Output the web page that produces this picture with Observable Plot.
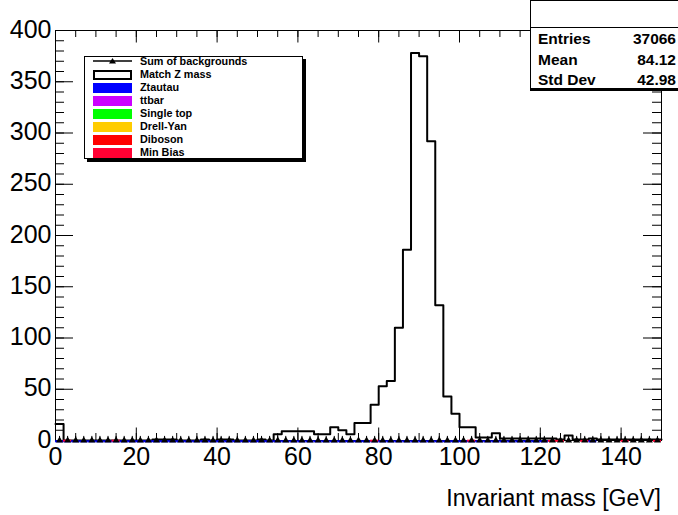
<!DOCTYPE html>
<html><head><meta charset="utf-8">
<script src="https://cdn.jsdelivr.net/npm/d3@7"></script>
<script src="https://cdn.jsdelivr.net/npm/@observablehq/plot@0.6"></script>
<style>
html,body{margin:0;padding:0;background:#fff;overflow:hidden;}
#chart{position:relative;width:678px;height:515px;font-family:"Liberation Sans",Arial,Helvetica,sans-serif;overflow:hidden;}
#chart svg{position:absolute;left:0;top:0;}
.legend{position:absolute;left:84px;top:56px;width:217px;height:101px;border:1px solid #000;background:#fff;box-shadow:3px 3px 0 #000;}
.lrow{position:absolute;left:0;height:13px;width:215px;}
.lsw{position:absolute;left:8px;top:1px;width:39px;height:10px;box-sizing:border-box;}
.ltx{position:absolute;left:55px;top:-1px;font-weight:bold;font-size:10.8px;line-height:13px;color:#000;white-space:nowrap;}
.stats{position:absolute;left:530px;top:0px;width:160px;height:87px;border:1px solid #000;border-bottom:3px solid #000;background:#fff;}
.sep{position:absolute;left:0;top:26px;width:100%;height:0;border-top:1px solid #000;}
.srow{position:absolute;left:7px;width:138px;font-weight:bold;font-size:15.5px;line-height:18px;color:#000;}
.srow .v{position:absolute;right:0;top:0;}
.xtitle{position:absolute;right:17px;top:485px;font-size:23px;color:#000;white-space:nowrap;}
</style></head><body><div id="chart"></div>
<script>
// ---------- data ----------
const binWidth = 2;
const binLow = d3.range(0, 150, binWidth);           // 75 bins, 0..150 GeV
const matchZ = [16, 0,0,0,0,0,0,0,0,0,0,0, 1,1,1, 0,0,0, 1, 0, 1,1, 0,0,0, 1, 0, 6,
  9,9,9,9, 6,6, 13, 10, 6, 17,17, 35, 53, 58, 110, 186, 378, 375, 292, 132, 43, 26,
  13,13, 3,3, 7, 2,2,2,2,2,2, 2, 1, 5, 1, 1, 2, 1,1,1,1,1,1,1,1];
// stacked backgrounds (essentially zero; only visible as a line on the axis)
const ztautau = [0.2,0.2,0.2,0.2,0.2,0.2,0.2,0.2,0.2,0.2,0.2,0.2,0.2,0.2,0.2,0.2,0.2,0.2,0.2,0.2,
  0.2,0.2,0.2,0.2,0.2,0.2,0.2,0.2,0.2,0.2,0.2,0.2,0.2,0.2,0.2,0.2,0.2,0.2,0.2,0.2,
  0.2,0.2,0.2,0.2,0.2,0.2,0.2,0.2,0.2,0.2,0.2,0.2,0.2,0.2,0.2,0.2,0.2,0.2,0.2,0.2,
  0.2,null,null,null,null,null,0.2,null,null,null,null,null,null,null,null];
const ttbar = [];
const singleTop = [];
const drellYan = [];
const diboson = [];
const minBiasBins = [2, 14, 78, 102, 122, 124, 130, 140, 148];
const minBiasVals = [0.6, 0.6, 0.6, 0.6, 0.6, 0.6, 0.6, 0.6, 0.6];
const bkgErr = 4;
const legendLabels = ["Sum of backgrounds","Match Z mass","Ztautau","ttbar","Single top","Drell-Yan","Diboson","Min Bias"];
const legendColors = [null, "#ffffff", "#0000ff", "#cc00ff", "#00ff00", "#ffcc00", "#ff0000", "#ff0033"];
const statsLabels = ["Entries","Mean","Std Dev"];
const statsValues = ["37066","84.12","42.98"];
const xMajor = [0,20,40,60,80,100,120,140];
const xMinor = d3.range(0, 151, 5);
const yMajor = [0,50,100,150,200,250,300,350,400];
const yMinor = d3.range(0, 401, 10);
const xTitle = "Invariant mass [GeV]";

// ---------- layout ----------
const W = 678, H = 515, mL = 55, mR = 17, mT = 30, mB = 75;
const pxY = (H - mT - mB) / 400, pxX = (W - mL - mR) / 150;

const hist = binLow.map((lo, i) => ({x: lo, y: matchZ[i]}));
hist.push({x: 150, y: matchZ[matchZ.length - 1]});

const ztRules = binLow.map((lo, i) => ({x1: lo, x2: lo + binWidth, y: ztautau[i]})).filter(d => d.y != null);
const mbRules = minBiasBins.map((lo, i) => ({x1: lo, x2: lo + binWidth, y: minBiasVals[i] + (ztautau[binLow.indexOf(lo)] || 0)}));
const sumBkg = binLow.map((lo, i) => {
  const mi = minBiasBins.indexOf(lo);
  return {x: lo + binWidth / 2, y: 0 * ((ztautau[i] || 0) + (mi >= 0 ? minBiasVals[mi] : 0))};
});

const chart = document.getElementById("chart");
const svg = Plot.plot({
  width: W, height: H, marginLeft: mL, marginRight: mR, marginTop: mT, marginBottom: mB,
  style: {fontFamily: "'Liberation Sans', Arial, Helvetica, sans-serif", background: "transparent", overflow: "visible"},
  x: {domain: [0, 150]},
  y: {domain: [0, 400]},
  marks: [
    // frame and ticks (ROOT style, ticks inside)
    Plot.frame({stroke: "#000", strokeWidth: 1}),
    Plot.ruleX(xMinor, {x: d => d, y1: 0, y2: 7 / pxY, stroke: "#000"}),
    Plot.ruleX(xMajor, {x: d => d, y1: 0, y2: 12.5 / pxY, stroke: "#000"}),
    Plot.ruleX(xMinor, {x: d => d, y1: 400, y2: 400 - 7 / pxY, stroke: "#000"}),
    Plot.ruleX(xMajor, {x: d => d, y1: 400, y2: 400 - 12.5 / pxY, stroke: "#000"}),
    Plot.ruleY(yMinor, {y: d => d, x1: 0, x2: 9 / pxX, stroke: "#000"}),
    Plot.ruleY(yMajor, {y: d => d, x1: 0, x2: 18 / pxX, stroke: "#000"}),
    Plot.ruleY(yMinor, {y: d => d, x1: 150, x2: 150 - 9 / pxX, stroke: "#000"}),
    Plot.ruleY(yMajor, {y: d => d, x1: 150, x2: 150 - 18 / pxX, stroke: "#000"}),
    Plot.axisX({ticks: xMajor, tickSize: 0, tickPadding: 7, fontSize: 25, label: null}),
    Plot.axisY({ticks: yMajor, tickSize: 0, tickPadding: 4, fontSize: 25, label: null, dy: -1}),
    // Match Z mass histogram
    Plot.line(hist, {x: "x", y: "y", curve: "step-after", stroke: "#000", strokeWidth: 2}),
    // stacked backgrounds
    Plot.ruleY(ztRules, {x1: "x1", x2: "x2", y: "y", stroke: "#0000ff", strokeWidth: 2, dy: 1}),
    Plot.ruleY(mbRules, {x1: "x1", x2: "x2", y: "y", stroke: "#ff0033", strokeWidth: 2, dy: 1}),
    // sum of backgrounds: markers with error bars
    Plot.ruleX(sumBkg, {x: "x", y1: "y", y2: d => d.y + bkgErr, stroke: "#000", strokeWidth: 1}),
    Plot.dot(sumBkg, {x: "x", y: "y", symbol: "triangle", r: 2.6, fill: "#000", stroke: "none"})
  ]
});
chart.appendChild(svg);

// legend
const lg = document.createElement("div");
lg.className = "legend";
legendLabels.forEach((lab, i) => {
  const row = document.createElement("div");
  row.className = "lrow";
  row.style.top = (-1 + i * 12.95) + "px";
  const sw = document.createElement("div");
  sw.className = "lsw";
  if (i === 0) {
    sw.style.height = "10px";
    sw.innerHTML = '<svg width="39" height="10"><line x1="0" y1="4" x2="39" y2="4" stroke="#000" stroke-width="1.5"/><path d="M19.5,1 L23,6.5 L16,6.5 Z" fill="#000"/></svg>';
  } else {
    sw.style.background = legendColors[i];
    if (i === 1) sw.style.border = "2px solid #000";
  }
  const tx = document.createElement("div");
  tx.className = "ltx";
  tx.textContent = lab;
  row.appendChild(sw); row.appendChild(tx);
  lg.appendChild(row);
});
chart.appendChild(lg);

// stats box
const st = document.createElement("div");
st.className = "stats";
st.innerHTML = '<div class="sep"></div>';
statsLabels.forEach((lab, i) => {
  const r = document.createElement("div");
  r.className = "srow";
  r.style.top = (29 + i * 20.5) + "px";
  r.innerHTML = '<span></span><span class="v"></span>';
  r.children[0].textContent = lab;
  r.children[1].textContent = statsValues[i];
  st.appendChild(r);
});
chart.appendChild(st);

// x-axis title
const xt = document.createElement("div");
xt.className = "xtitle";
xt.textContent = xTitle;
chart.appendChild(xt);
</script></body></html>
